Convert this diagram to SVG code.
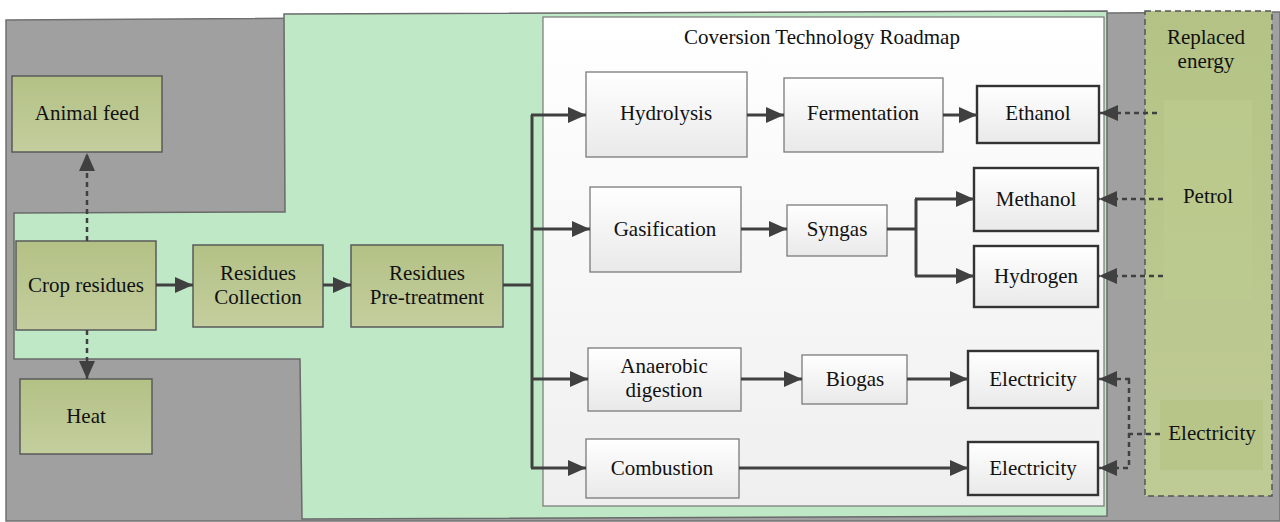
<svg xmlns="http://www.w3.org/2000/svg" width="1280" height="522" viewBox="0 0 1280 522">
<style>
text{font-family:"Liberation Serif","Times New Roman",serif;font-size:21px;fill:#111;text-anchor:middle}
.olive{fill:url(#gOlive);stroke:#5a5a5a;stroke-width:1.5}
.mid{fill:url(#gMid);stroke:#7a7a7a;stroke-width:1.3}
.out{fill:url(#gMid);stroke:#333;stroke-width:2.4}
.ln{fill:none;stroke:#404040;stroke-width:3}
.la{fill:none;stroke:#404040;stroke-width:3;marker-end:url(#ah)}
.da{fill:none;stroke:#404040;stroke-width:2.5;stroke-dasharray:5 4;marker-end:url(#ah)}
.dl{fill:none;stroke:#404040;stroke-width:2.5;stroke-dasharray:5 4}
</style>
<defs>
<linearGradient id="gOlive" x1="0" y1="0" x2="0" y2="1"><stop offset="0" stop-color="#b3c185"/><stop offset="1" stop-color="#c4ce9e"/></linearGradient>
<linearGradient id="gMid" x1="0" y1="0" x2="0" y2="1"><stop offset="0" stop-color="#ffffff"/><stop offset="1" stop-color="#e9e9e9"/></linearGradient>
<linearGradient id="gPanel" x1="0" y1="0" x2="0" y2="1"><stop offset="0" stop-color="#ffffff"/><stop offset="1" stop-color="#efefef"/></linearGradient>
<linearGradient id="gRight" x1="0" y1="0" x2="0" y2="1"><stop offset="0" stop-color="#b4c385"/><stop offset="1" stop-color="#bfcb95"/></linearGradient>
<marker id="ah" markerUnits="userSpaceOnUse" markerWidth="18" markerHeight="16" refX="18" refY="8" orient="auto"><path d="M0,0 L18,8 L0,16 z" fill="#404040"/></marker>
</defs>

<g id="background">
<polygon points="6,20 1106,13 1280,12 1280,521 6,521" fill="#a0a0a0" stroke="#707070" stroke-width="1.5"/>
<polygon points="284,14 1107,11 1107,516 302,519 300,359 14,359 14,213 285,212" fill="#bfe9c6" stroke="#6a6a6a" stroke-width="1.5"/>
</g>

<g id="roadmap-panel">
<rect x="543" y="17" width="561" height="489" fill="url(#gPanel)" stroke="#777" stroke-width="1.2"/>
<text x="822" y="44">Coversion Technology Roadmap</text>
</g>

<g id="replaced-energy">
<rect x="1145" y="11" width="127" height="485" fill="url(#gRight)" stroke="#555" stroke-width="1.5" stroke-dasharray="6 4"/>
<rect x="1164" y="100" width="88" height="200" fill="#bccb90" opacity="0.6"/>
<rect x="1160" y="400" width="103" height="70" fill="#b5c384" opacity="0.7"/>
<text x="1206" y="44">Replaced</text>
<text x="1206" y="68">energy</text>
<text x="1208" y="203">Petrol</text>
<text x="1212" y="440">Electricity</text>
</g>

<g id="animal-feed"><rect class="olive" x="12" y="76" width="150" height="76"/><text x="87" y="120">Animal feed</text></g>
<g id="crop-residues"><rect class="olive" x="16" y="241" width="140" height="89"/><text x="86" y="292">Crop residues</text></g>
<g id="heat"><rect class="olive" x="20" y="379" width="132" height="75"/><text x="86" y="423">Heat</text></g>
<g id="residues-collection"><rect class="olive" x="193" y="245" width="130" height="82"/><text x="258" y="280">Residues</text><text x="258" y="304">Collection</text></g>
<g id="residues-pretreatment"><rect class="olive" x="351" y="245" width="152" height="82"/><text x="427" y="280">Residues</text><text x="427" y="304">Pre-treatment</text></g>

<g id="hydrolysis"><rect class="mid" x="586" y="72" width="161" height="85"/><text x="666" y="120">Hydrolysis</text></g>
<g id="fermentation"><rect class="mid" x="784" y="78" width="159" height="74"/><text x="863" y="120">Fermentation</text></g>
<g id="ethanol"><rect class="out" x="977" y="86" width="122" height="57"/><text x="1038" y="120">Ethanol</text></g>
<g id="gasification"><rect class="mid" x="590" y="187" width="151" height="85"/><text x="665" y="236">Gasification</text></g>
<g id="syngas"><rect class="mid" x="787" y="205" width="100" height="51"/><text x="837" y="236">Syngas</text></g>
<g id="methanol"><rect class="out" x="974" y="168" width="124" height="63"/><text x="1036" y="206">Methanol</text></g>
<g id="hydrogen"><rect class="out" x="974" y="246" width="124" height="61"/><text x="1036" y="283">Hydrogen</text></g>
<g id="anaerobic-digestion"><rect class="mid" x="588" y="348" width="153" height="63"/><text x="664" y="373">Anaerobic</text><text x="664" y="397">digestion</text></g>
<g id="biogas"><rect class="mid" x="802" y="355" width="105" height="49"/><text x="855" y="386">Biogas</text></g>
<g id="electricity-1"><rect class="out" x="968" y="351" width="130" height="57"/><text x="1033" y="386">Electricity</text></g>
<g id="combustion"><rect class="mid" x="586" y="439" width="153" height="59"/><text x="662" y="475">Combustion</text></g>
<g id="electricity-2"><rect class="out" x="968" y="442" width="130" height="53"/><text x="1033" y="475">Electricity</text></g>

<g id="connectors">
<path class="da" d="M87,241 V153"/>
<path class="da" d="M87,330 V379"/>
<path class="la" d="M156,285 H193"/>
<path class="la" d="M323,285 H351"/>
<path class="ln" d="M503,285 H532 M532,115 V468"/>
<path class="la" d="M531,115 H586"/>
<path class="la" d="M531,229 H590"/>
<path class="la" d="M531,379 H588"/>
<path class="la" d="M531,468 H586"/>
<path class="la" d="M747,115 H784"/>
<path class="la" d="M943,115 H977"/>
<path class="la" d="M741,229 H787"/>
<path class="ln" d="M887,229 H916 M916,199 V276"/>
<path class="la" d="M915,199 H974"/>
<path class="la" d="M915,276 H974"/>
<path class="la" d="M741,379 H802"/>
<path class="la" d="M907,379 H968"/>
<path class="la" d="M739,468 H968"/>
<path class="da" d="M1157,113 H1100"/>
<path class="da" d="M1163,199 H1099"/>
<path class="da" d="M1163,276 H1099"/>
<path class="dl" d="M1160,434 H1128 M1129,379 V468"/>
<path class="da" d="M1130,379 H1099"/>
<path class="da" d="M1128,468 H1099"/>
</g>
</svg>
